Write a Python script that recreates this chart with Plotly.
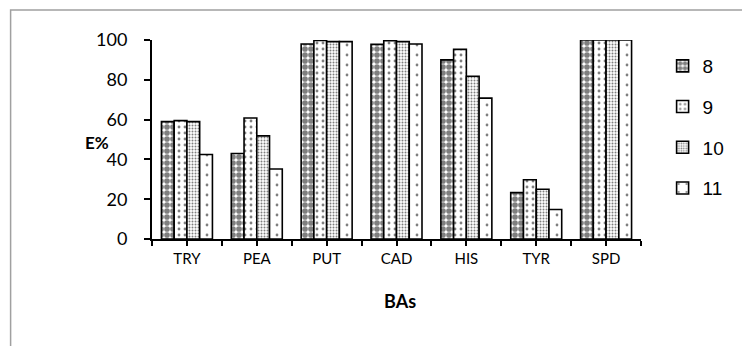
import plotly.graph_objects as go

categories = ["TRY", "PEA", "PUT", "CAD", "HIS", "TYR", "SPD"]
series_names = ["8", "9", "10", "11"]
s8 = [59.0, 43.0, 98.0, 97.8, 90.0, 23.3, 100.0]
s9 = [59.5, 60.8, 99.8, 99.6, 95.3, 29.8, 100.0]
s10 = [59.0, 51.8, 99.2, 99.2, 81.8, 25.0, 100.0]
s11 = [42.5, 35.2, 99.2, 98.0, 70.8, 14.8, 100.0]
y_ticks = [0, 20, 40, 60, 80, 100]

series = [s8, s9, s10, s11]
patterns = [
    dict(shape=".", size=6, solidity=0.7),
    dict(shape=".", size=6, solidity=0.18),
    dict(shape=".", size=3, solidity=0.35),
    dict(shape=".", size=10, solidity=0.06),
]

# page body adds an 8px margin; the figure is sized to fit the 750x354 window
PX0, PX1, PY0, PY1 = 152, 650, 40, 239   # plot area in window pixels
def px(X):
    return (X - PX0) / (PX1 - PX0)
def py(Y):
    return (PY1 - Y) / (PY1 - PY0)

x = list(range(len(categories)))
fig = go.Figure()
for name, vals, pat in zip(series_names, series, patterns):
    fig.add_trace(go.Bar(
        x=x, y=vals, name=name, legendgroup=name,
        marker=dict(color="white", line=dict(color="black", width=1.6),
                    pattern=dict(fgcolor="black", bgcolor="white", fillmode="overlay", **pat)),
    ))

fig.update_layout(
    width=734, height=338,
    margin=dict(l=PX0 - 8, r=734 - (PX1 - 8), t=PY0 - 8, b=338 - (PY1 - 8)),
    paper_bgcolor="white", plot_bgcolor="white",
    barmode="group", bargap=0.27, bargroupgap=0,
    font=dict(family="Lato", color="black"),
    legend=dict(x=px(672), xanchor="left", y=py(47), yanchor="top",
                font=dict(family="Liberation Sans", size=19),
                tracegroupgap=13, itemwidth=30, bgcolor="rgba(0,0,0,0)"),
    xaxis=dict(range=[-0.5, 6.5], tickvals=x, ticktext=categories,
               showline=True, linecolor="black", linewidth=2,
               ticks="outside", ticklen=5, tickwidth=2, tickcolor="black",
               minor=dict(ticks="outside", ticklen=5, tickwidth=2, tickcolor="black",
                          dtick=0.5, tick0=-0.5),
               showgrid=False, zeroline=False, ticklabelstandoff=0,
               tickfont=dict(family="Lato", size=15)),
    yaxis=dict(range=[0, 100], tickvals=y_ticks,
               showline=True, linecolor="black", linewidth=2,
               ticks="outside", ticklen=6, tickwidth=2, tickcolor="black",
               showgrid=False, zeroline=False, ticklabelstandoff=13,
               tickfont=dict(family="Lato", size=18)),
    annotations=[
        dict(text="<b>E%</b>", x=px(82), y=py(142), xref="paper", yref="paper",
             showarrow=False, font=dict(family="Lato", size=17)),
        dict(text="<b>BAs</b>", x=px(405), y=py(314), xref="paper", yref="paper",
             showarrow=False, font=dict(family="Lato", size=18)),
    ],
    shapes=[dict(type="rect", xref="paper", yref="paper",
                 x0=px(8), x1=px(780), y0=py(400), y1=py(10),
                 line=dict(color="#a0a0a0", width=1.5), fillcolor="rgba(0,0,0,0)",
                 layer="below")],
)

fig.write_html("out.html")
